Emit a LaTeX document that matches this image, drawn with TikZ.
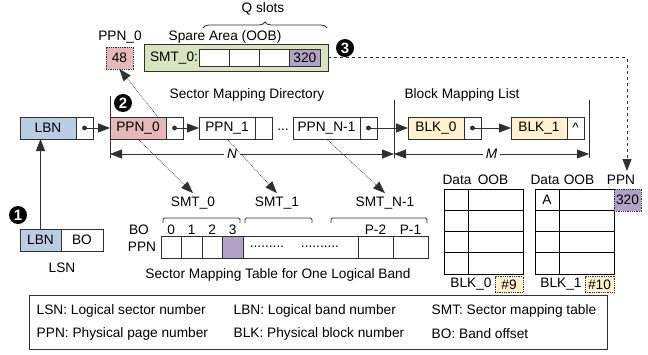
\documentclass[tikz,border=0pt]{standalone}
\usepackage{fontspec}
\setmainfont{Liberation Sans}
\usepackage{xcolor}
\usetikzlibrary{arrows.meta, decorations.pathreplacing, calc, positioning}

\definecolor{lbnblue}{HTML}{B9CDE5}
\definecolor{ppnpink}{HTML}{E6B9B8}
\definecolor{oobgreen}{HTML}{D7E4BD}
\definecolor{slotpurple}{HTML}{B3A2C7}
\definecolor{blkyellow}{HTML}{FFF2CC}
\definecolor{linegray}{HTML}{303030}

\tikzset{
    cell/.style={draw=linegray, line width=0.8pt, minimum height=22pt, inner sep=0pt, outer sep=0pt},
    ptr/.style={cell, minimum width=17pt, fill=white},
    slot/.style={cell, minimum width=30.25pt, minimum height=17pt, fill=white},
    tcell/.style={cell, minimum width=20.5pt, fill=white},
    tagbox/.style={cell, densely dotted, minimum height=16pt},
    stepnum/.style={circle, fill=black, text=white, font=\bfseries\fontsize{15}{16}\selectfont, inner sep=0pt, minimum size=18pt},
    headarrow/.style={-{Triangle[length=12pt,width=9pt]}},
    dimarrow/.style={{Triangle[length=12pt,width=9pt]}-{Triangle[length=12pt,width=9pt]}},
    dotarrow/.style={-{Triangle[length=12pt,width=9pt]}, densely dotted, line width=0.7pt},
    bracket/.style={draw=linegray, line width=0.8pt, rounded corners=1.5pt}
}

\begin{document}
\begin{tikzpicture}[x=1pt, y=-1pt, font=\fontsize{13.7}{16}\selectfont, text=black, line width=0.8pt, draw=linegray]
    \useasboundingbox (0,0) rectangle (648,354);

    \node (qslots) at (263,9) {Q slots};
    \draw[decorate, decoration={brace, amplitude=6pt}] (203,28) -- (327,28);
    \node (sparelbl) at (225,37) {Spare Area (OOB)};
    \node (ppn0lbl) at (120,37) {PPN\_0};
    \node[tagbox, fill=ppnpink, minimum width=27pt, minimum height=22pt] (val48) at (119.5,58) {48};
    \node[cell, fill=oobgreen, minimum width=184pt, minimum height=27pt] (oob) at (236,57.5) {};
    \node (smt0tag) at (174,58) {SMT\_0:};
    \node[slot] (slot1) at (214.125,57.5) {};
    \node[slot, right=0pt of slot1] (slot2) {};
    \node[slot, right=0pt of slot2] (slot3) {};
    \node[slot, right=0pt of slot3, fill=slotpurple] (slot4) {320};
    \node[stepnum] (step3) at (345,48) {3};

    \node (smdlbl) at (247,95) {Sector Mapping Directory};
    \node (bmllbl) at (462,95) {Block Mapping List};
    \node[stepnum] (step2) at (123,103) {2};

    \node[cell, fill=lbnblue, minimum width=56pt] (lbn) at (48,128) {LBN};
    \node[ptr, right=0pt of lbn] (lbnptr) {};
    \node[cell, fill=ppnpink, minimum width=56pt] (ppn0) at (138,128) {PPN\_0};
    \node[ptr, right=0pt of ppn0] (ppn0ptr) {};
    \node[cell, fill=white, minimum width=56pt] (ppn1) at (227,128) {PPN\_1};
    \node[ptr, right=0pt of ppn1] (ppn1ptr) {};
    \node (ldots) at (283,130) {...};
    \node[cell, fill=white, minimum width=67pt] (ppnn) at (326.5,128) {PPN\_N-1};
    \node[ptr, right=0pt of ppnn] (ppnnptr) {};
    \node[cell, fill=blkyellow, minimum width=56pt] (blk0) at (436,128) {BLK\_0};
    \node[ptr, right=0pt of blk0] (blk0ptr) {};
    \node[cell, fill=blkyellow, minimum width=56pt] (blk1) at (539,128) {BLK\_1};
    \node[ptr, right=0pt of blk1] (blk1ptr) {\textasciicircum};

    \fill[linegray] (lbnptr) circle (2.4pt) (ppn0ptr) circle (2.4pt) (ppnnptr) circle (2.4pt) (blk0ptr) circle (2.4pt);
    \draw[headarrow] (lbnptr.center) -- (ppn0.west);
    \draw[headarrow] (ppn0ptr.center) -- (ppn1.west);
    \draw[headarrow] (ppnnptr.center) -- (blk0.west);
    \draw[headarrow] (blk0ptr.center) -- (blk1.west);

    \draw (110,96) -- (110,158) (394,100) -- (394,158) (589,100) -- (589,158);
    \draw[dimarrow] (110,154) -- node[pos=0.43, fill=white, inner sep=3pt, font=\itshape\fontsize{13.7}{16}\selectfont] (dimn) {N} (394,154);
    \draw[dimarrow] (394,154) -- node[fill=white, inner sep=3pt, font=\itshape\fontsize{13.7}{16}\selectfont] (dimm) {M} (589,154);

    \node[cell, fill=lbnblue, minimum width=41pt] (lsnlbn) at (40.5,240) {LBN};
    \node[cell, fill=white, minimum width=42pt, right=0pt of lsnlbn] (lsnbo) {BO};
    \node (lsnlbl) at (62,268) {LSN};
    \node[stepnum] (step1) at (18,215) {1};
    \draw[headarrow] (lsnlbn.north) -- (lsnlbn.north |- lbn.south);

    \node (smt0lbl) at (193,203) {SMT\_0};
    \node (smt1lbl) at (277,203) {SMT\_1};
    \node (smtnlbl) at (385,203) {SMT\_N-1};
    \draw[dotarrow] ($(ppn0.north east)+(-8,0)$) -- (val48.south);
    \draw[dotarrow] (ppn0.south) -- (smt0lbl.north);
    \draw[dotarrow] (ppn1.south) -- (smt1lbl.north);
    \draw[dotarrow] (ppnn.south) -- (smtnlbl.north);

    \draw[bracket] (163,223) -- (163,218) -- (240,218) -- (240,223);
    \draw[bracket] (245,223) -- (245,218) -- (312,218) -- (312,223);
    \draw[bracket] (331,223) -- (331,218) -- (427,218) -- (427,223);

    \node (bolbl) at (139,230) {BO};
    \node (ppnrow) at (142,247) {PPN};
    \node (bo0) at (171.25,230) {0};
    \node (bo1) at (191.75,230) {1};
    \node (bo2) at (212.25,230) {2};
    \node (bo3) at (232.75,230) {3};
    \node (bop2) at (375.5,230) {P-2};
    \node (bop1) at (410.5,230) {P-1};
    \node[tcell] (pc0) at (171.25,247) {};
    \node[tcell, right=0pt of pc0] (pc1) {};
    \node[tcell, right=0pt of pc1] (pc2) {};
    \node[tcell, right=0pt of pc2, fill=slotpurple] (pc3) {};
    \node[cell, fill=white, minimum width=115pt, right=0pt of pc3] (pcmid) {};
    \node[cell, fill=white, minimum width=35pt, right=0pt of pcmid] (pcp2) {};
    \node[cell, fill=white, minimum width=35pt, right=0pt of pcp2] (pcp1) {};
    \node[inner sep=0pt] (dots1) at (267,247) {.........};
    \node[inner sep=0pt] (dots2) at (320,247) {..........};
    \node (smtcap) at (278,275) {Sector Mapping Table for One Logical Band};

    \node (data0) at (457,180) {Data};
    \node (oob0) at (493,180) {OOB};
    \node (data1) at (545,180) {Data};
    \node (oob1) at (579,180) {OOB};
    \node (ppnhdr) at (621,180) {PPN};
    \coordinate (ppnin) at (627,171);
    \draw[headarrow, dashed] (oob.east) -| (ppnin);

    \draw[black, line width=0.9pt] (444,189) rectangle (523,274) (468,189) -- (468,274)
    (444,210.25) -- (523,210.25) (444,231.5) -- (523,231.5) (444,252.75) -- (523,252.75);
    \draw[black, line width=0.9pt] (535,189) rectangle (614,274) (559,189) -- (559,274)
    (535,210.25) -- (614,210.25) (535,231.5) -- (614,231.5) (535,252.75) -- (614,252.75);
    \node (pagea) at (547,199.5) {A};
    \node[tagbox, fill=slotpurple, minimum width=27pt, minimum height=22pt] (ppn320) at (627.5,200) {320};
    \node (blk0lbl) at (471,284) {BLK\_0};
    \node[tagbox, fill=blkyellow, minimum width=28pt] (tag9) at (509,284.5) {\#9};
    \node (blk1lbl) at (561,284) {BLK\_1};
    \node[tagbox, fill=blkyellow, minimum width=29pt] (tag10) at (599.5,284.5) {\#10};

    \node[draw=linegray, minimum width=578pt, minimum height=54pt, inner sep=0pt] (legend) at (318,322.5) {};
    \node[anchor=west] (lsnkey) at (33,311) {LSN: Logical sector number};
    \node[anchor=west] (lbnkey) at (230,311) {LBN: Logical band number};
    \node[anchor=west] (smtkey) at (428,311) {SMT: Sector mapping table};
    \node[anchor=west] (ppnkey) at (33,334) {PPN: Physical page number};
    \node[anchor=west] (blkkey) at (230,334) {BLK: Physical block number};
    \node[anchor=west] (bokey) at (428,334) {BO: Band offset};
\end{tikzpicture}
\end{document}
